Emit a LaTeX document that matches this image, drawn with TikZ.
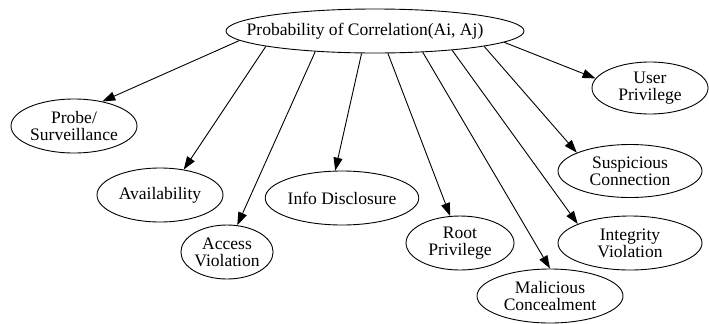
\documentclass[tikz,border=0pt]{standalone}
\usepackage{fontspec}
\setmainfont{Liberation Serif}
\usetikzlibrary{arrows.meta, shapes.geometric}

\begin{document}
\begin{tikzpicture}[
    x=1bp, y=1bp,
    event/.style={ellipse, draw=black, line width=0.9bp, inner sep=0pt,
        align=center, font=\fontsize{17.6}{17}\selectfont},
    arrow/.style={-{Triangle[length=13bp, width=9bp]}, line width=0.9bp, black}
]
    \useasboundingbox (0,0) rectangle (709,-323);

    % Top node
    \node[event, inner xsep=-26bp, minimum width=298bp, minimum height=44bp] (top) at (375,-31) {Probability of Correlation(Ai, Aj)\hspace*{20bp}};

    % --- Left side ---
    \node[event, minimum width=126bp, minimum height=54bp] (probe) at (74,-126) {Probe/\\Surveillance};
    \node[event, minimum width=126bp, minimum height=54bp] (avail) at (160,-195) {Availability};
    \node[event, minimum width=90bp, minimum height=54bp] (access) at (227,-252) {Access\\Violation};
    \node[event, minimum width=142bp, minimum height=54bp] (info) at (342,-198) {Info Disclosure};

    % --- Right side ---
    \node[event, minimum width=108bp, minimum height=54bp] (rootpriv) at (460,-243) {Root\\Privilege};
    \node[event, minimum width=146bp, minimum height=54bp] (conceal) at (550,-296) {Malicious\\Concealment};
    \node[event, minimum width=144bp, minimum height=54bp] (integrity) at (630,-243) {Integrity\\Violation};
    \node[event, minimum width=144bp, minimum height=53bp] (suspect) at (630,-171) {Suspicious\\Connection};
    \node[event, minimum width=116bp, minimum height=52bp] (userpriv) at (650,-88) {User\\Privilege};

    % Arrows
    \foreach \from/\to/\at in {184.7/probe/41, 188.6/avail/47.5, 199.3/access/69,
        239.3/info/104.6, 300.7/rootpriv/110.7, 336.6/conceal/90,
        346.5/integrity/160, 352.8/suspect/161.7, 355.3/userpriv/170} {
        \draw[arrow] (top.\from) -- (\to.\at);
    }
\end{tikzpicture}
\end{document}
